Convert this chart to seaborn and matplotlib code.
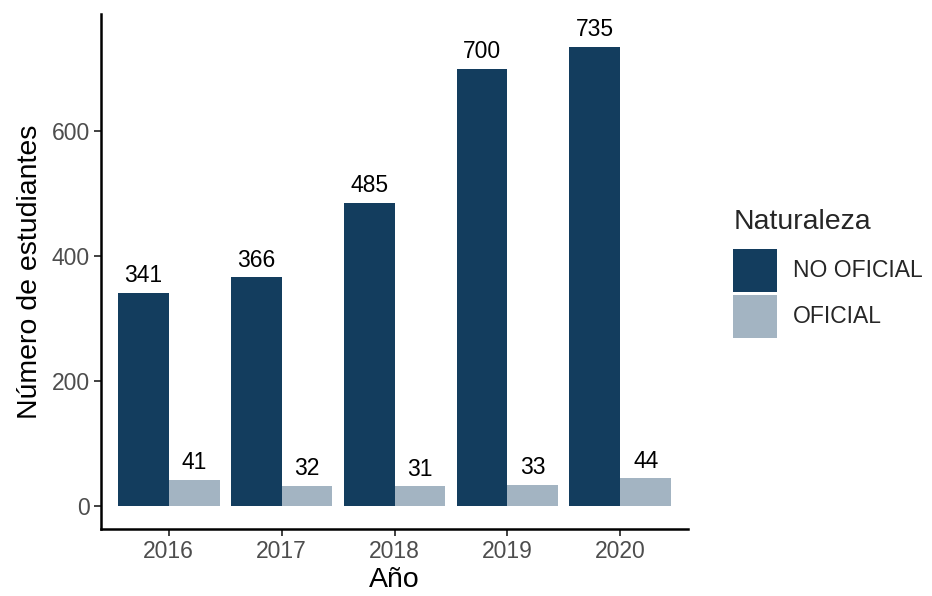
import pandas as pd
import numpy as np
import matplotlib
matplotlib.use("Agg")
import matplotlib.pyplot as plt
import seaborn as sns
from matplotlib.patches import Patch

years = ["2016", "2017", "2018", "2019", "2020"]
no_oficial = [341, 366, 485, 700, 735]
oficial = [41, 32, 31, 33, 44]
groups = ["NO OFICIAL", "OFICIAL"]
colors = ["#133D5E", "#A3B4C2"]


def main():
    df = pd.DataFrame({
        "Año": years * 2,
        "Naturaleza": [groups[0]] * len(years) + [groups[1]] * len(years),
        "n": no_oficial + oficial,
    })

    sns.set_style("white")
    plt.rcParams["font.family"] = ["Liberation Sans", "DejaVu Sans"]

    fig = plt.figure(figsize=(9.32, 5.96), dpi=100)
    ax = fig.add_axes([101 / 932, 1 - 529 / 596, (688 - 101) / 932, (529 - 14) / 596])

    sns.barplot(data=df, x="Año", y="n", hue="Naturaleza", order=years,
                hue_order=groups, palette=colors, width=0.9, saturation=1,
                linewidth=0, ax=ax, legend=False)

    for cont in ax.containers:
        ax.bar_label(cont, fontsize=16.5, color="black", padding=4)

    # label text sits ~15 units above the bars, ggplot expands 5% around that
    top = max(no_oficial) + 15
    ax.set_ylim(-0.05 * top, 1.05 * top)
    ax.set_xlim(-0.6, len(years) - 0.4)
    ax.set_yticks([0, 200, 400, 600])

    for side in ["top", "right"]:
        ax.spines[side].set_visible(False)
    for side in ["left", "bottom"]:
        ax.spines[side].set_color("black")
        ax.spines[side].set_linewidth(1.8)

    ax.tick_params(axis="both", length=5, width=1.3, color="#333333",
                   labelsize=16.5, labelcolor="#4D4D4D", pad=3, left=True, bottom=True)
    ax.set_xlabel("Año", fontsize=20.5, color="black", labelpad=3)
    ax.set_ylabel("Número de estudiantes", fontsize=20.5, color="black", labelpad=6)

    handles = [Patch(facecolor=c, edgecolor="none") for c in colors]
    leg = fig.legend(handles, groups, title="Naturaleza", loc="upper left",
                     bbox_to_anchor=(724 / 932, 1 - 200 / 596), frameon=False,
                     fontsize=16.5, title_fontsize=20.5, handlelength=1.92,
                     handleheight=2.5, labelspacing=0.13, handletextpad=0.7,
                     borderaxespad=0)
    leg._legend_box.align = "left"
    leg._legend_box.sep = 10  # more room between title and keys

    fig.savefig("out.png", dpi=100)


if __name__ == "__main__":
    main()
